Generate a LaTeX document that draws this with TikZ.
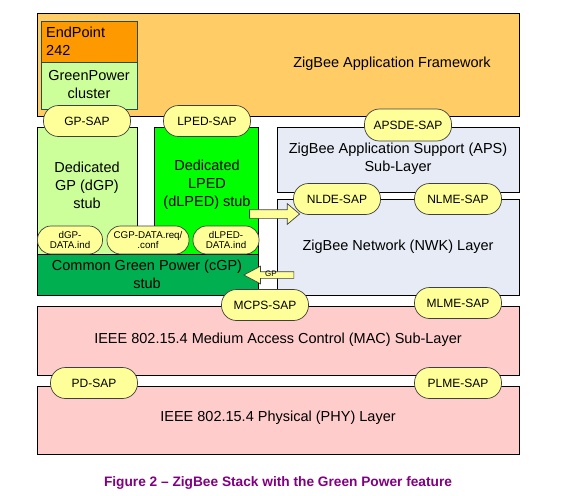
\documentclass[tikz,border=0pt]{standalone}
\usepackage{fontspec}
\setmainfont{Liberation Sans}
\usetikzlibrary{shapes.arrows}
\definecolor{fwc}{HTML}{FFCC66}
\definecolor{epc}{HTML}{FF9900}
\definecolor{lgc}{HTML}{CCFF99}
\definecolor{bgc}{HTML}{00FF00}
\definecolor{dgc}{HTML}{00B050}
\definecolor{blc}{HTML}{E6EBF5}
\definecolor{pkc}{HTML}{FFCCCC}
\definecolor{sapc}{HTML}{FFFF99}
\definecolor{sapd}{HTML}{404040}
\definecolor{capc}{HTML}{800080}
\definecolor{epd}{HTML}{1F4F4F}
\begin{document}
\begin{tikzpicture}[x=1pt,y=-1pt,
  box/.style={draw=black, line width=0.8pt, anchor=north west, inner sep=0pt},
  sap/.style={draw=sapd, line width=0.7pt, fill=sapc, rounded corners=15pt, minimum width=87pt, minimum height=31pt, inner sep=0pt, font=\fontsize{12}{14}\selectfont},
  small/.style={draw=sapd, line width=0.7pt, fill=sapc, rounded corners=13.5pt, minimum height=28pt, inner sep=0pt, align=center, font=\fontsize{9.8}{10.5}\selectfont},
  lbl/.style={align=center, inner sep=0pt, font=\fontsize{14.5}{18}\selectfont},
  blockarrow/.style={single arrow, draw=sapd, line width=0.7pt, fill=sapc, minimum height=50pt}
]
\useasboundingbox (0,0) rectangle (577,495);
% boxes
\node[box, fill=fwc, minimum width=482pt, minimum height=103pt] (fw) at (37,13) {};
\node[box, draw=epd, fill=epc, minimum width=96pt, minimum height=41pt] (ep) at (41,21) {};
\node[box, draw=epd, fill=lgc, minimum width=96pt, minimum height=47pt] (gpc) at (41,62) {};
\node[box, fill=lgc, minimum width=100pt, minimum height=127pt] (dgp) at (37,127) {};
\node[box, fill=bgc, minimum width=104pt, minimum height=127pt] (dlped) at (154,127) {};
\node[box, fill=blc, minimum width=242pt, minimum height=65pt] (aps) at (277,127) {};
\node[box, fill=blc, minimum width=242pt, minimum height=96pt] (nwk) at (277,199) {};
\node[box, fill=dgc, minimum width=221pt, minimum height=41pt] (cgp) at (37,254) {};
\node[box, fill=pkc, minimum width=482pt, minimum height=69pt] (mac) at (37,306) {};
\node[box, fill=pkc, minimum width=482pt, minimum height=68pt] (phy) at (37,386) {};
% texts
\node[lbl, align=left, anchor=west] (ept) at (46,41.5) {EndPoint\\242};
\node[lbl] (gpct) at (89,85) {GreenPower\\cluster};
\node[lbl] (fwt) at (392,64) {ZigBee Application Framework};
\node[lbl] (dgpt) at (87,185) {Dedicated\\GP (dGP)\\stub};
\node[lbl] (dlpedt) at (207,185) {Dedicated\\LPED\\(dLPED) stub};
\node[lbl] (cgpt) at (147,274.5) {Common Green Power (cGP)\\stub};
\node[lbl] (apst) at (398,159) {ZigBee Application Support (APS)\\Sub-Layer};
\node[lbl] (nwkt) at (398,247) {ZigBee Network (NWK) Layer};
\node[lbl] (mact) at (278,340) {IEEE 802.15.4 Medium Access Control (MAC) Sub-Layer};
\node[lbl] (phyt) at (278,418) {IEEE 802.15.4 Physical (PHY) Layer};
% small SAPs
\node[small, minimum width=65pt] (dgpdata) at (70,240) {dGP-\\DATA.ind};
\node[small, minimum width=82pt] (cgpdata) at (148,240) {CGP-DATA.req/\\.conf};
\node[small, minimum width=66pt] (dlpeddata) at (226,240) {dLPED-\\DATA.ind};
% SAPs
\node[sap] (gpsap) at (87,121) {GP-SAP};
\node[sap] (lpedsap) at (207,121) {LPED-SAP};
\node[sap, minimum height=32pt] (apsdesap) at (408,125) {APSDE-SAP};
\node[sap] (nldesap) at (337,199) {NLDE-SAP};
\node[sap] (nlmesap) at (458,199) {NLME-SAP};
\node[sap] (mcpssap) at (265,305) {MCPS-SAP};
\node[sap] (mlmesap) at (458,303) {MLME-SAP};
\node[sap] (pdsap) at (94,383) {PD-SAP};
\node[sap] (plmesap) at (458,383) {PLME-SAP};
% block arrows
\node[blockarrow, inner sep=4pt, single arrow head extend=6pt, single arrow tip angle=80] (a1) at (272,214) {};
\node[blockarrow, inner sep=3pt, single arrow head extend=5.5pt, single arrow tip angle=56, shape border rotate=180] (a2) at (272,275) {};
\node[inner sep=0pt, font=\fontsize{8}{8}\selectfont] (gpl) at (271,274) {GP};
% caption
\node[inner sep=0pt, text=capc, font=\bfseries\fontsize{13.7}{15}\selectfont] (cap) at (278,483) {Figure 2 – ZigBee Stack with the Green Power feature};
\end{tikzpicture}
\end{document}
